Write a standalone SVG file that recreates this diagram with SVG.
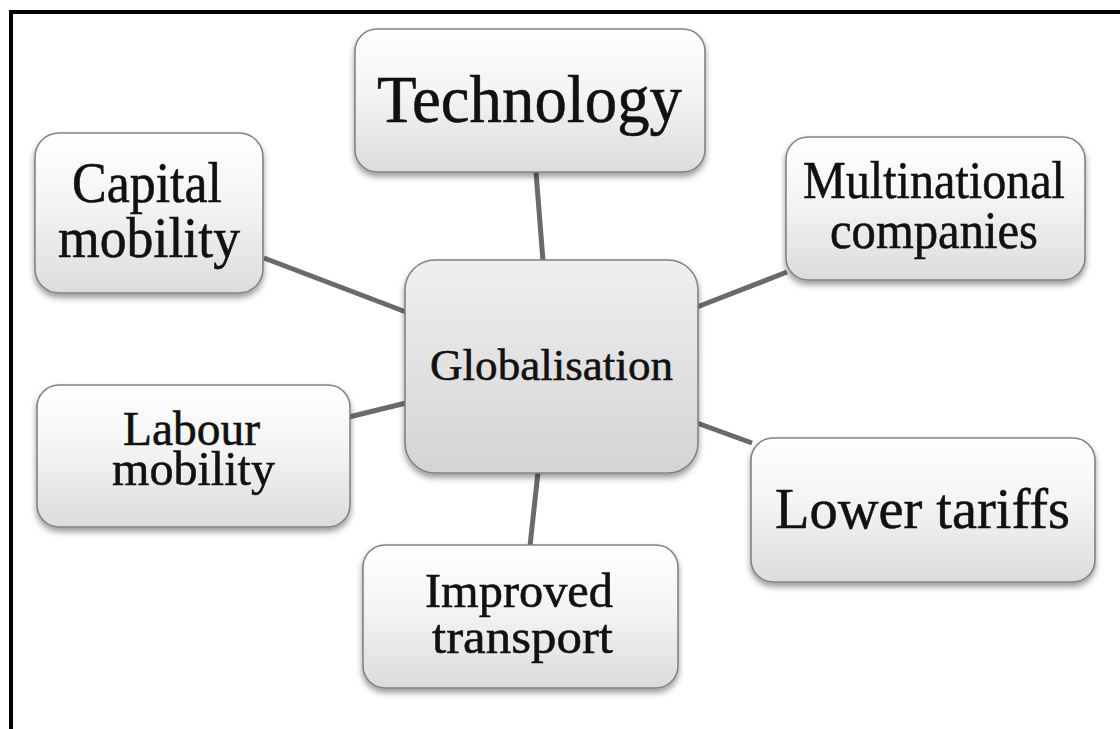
<svg xmlns="http://www.w3.org/2000/svg" width="1120" height="729" viewBox="0 0 1120 729">
  <defs>
    <linearGradient id="boxFill" x1="0" y1="0" x2="0" y2="1">
      <stop offset="0" stop-color="#ffffff"/>
      <stop offset="0.45" stop-color="#f4f4f4"/>
      <stop offset="1" stop-color="#dcdcdc"/>
    </linearGradient>
    <linearGradient id="hubFill" x1="0" y1="0" x2="0" y2="1">
      <stop offset="0" stop-color="#efefef"/>
      <stop offset="1" stop-color="#d4d4d4"/>
    </linearGradient>
    <filter id="shadow" x="-10%" y="-10%" width="120%" height="130%">
      <feGaussianBlur in="SourceAlpha" stdDeviation="3"/>
      <feOffset dx="0" dy="4" result="b"/>
      <feComponentTransfer><feFuncA type="linear" slope="0.4"/></feComponentTransfer>
      <feMerge><feMergeNode/><feMergeNode in="SourceGraphic"/></feMerge>
    </filter>
  </defs>
  <style>
    .box { fill: url(#boxFill); stroke: #828282; stroke-width: 1.6; filter: url(#shadow); }
    .hub { fill: url(#hubFill); stroke: #828282; stroke-width: 1.6; filter: url(#shadow); }
    .lbl { font-family: "Liberation Serif", "Times New Roman", serif; fill: #111; stroke: #111; stroke-width: 0.55; text-anchor: middle; }
    .link { stroke: #6a6a6a; stroke-width: 5; stroke-linecap: butt; fill: none; }
    .frame { fill: none; stroke: #000; stroke-width: 4; }
  </style>

  <rect x="0" y="0" width="1120" height="729" fill="#ffffff"/>
  <!-- outer frame: top and left edges -->
  <path class="frame" d="M11 729 V12 H1120"/>

  <g id="connectors">
    <line class="link" x1="536" y1="172" x2="543" y2="261"/>
    <line class="link" x1="264" y1="258" x2="406" y2="312"/>
    <line class="link" x1="787" y1="272" x2="697" y2="307"/>
    <line class="link" x1="349" y1="417" x2="406" y2="403"/>
    <line class="link" x1="697" y1="423" x2="752" y2="443"/>
    <line class="link" x1="538" y1="472" x2="530" y2="546"/>
  </g>

  <g id="globalisation">
    <rect class="hub" x="405" y="260" width="293" height="213" rx="30"/>
    <text class="lbl" x="551.5" y="380" font-size="44" textLength="243" lengthAdjust="spacingAndGlyphs">Globalisation</text>
  </g>

  <g id="technology">
    <rect class="box" x="355" y="29" width="350" height="143" rx="22"/>
    <text class="lbl" x="529.5" y="122" font-size="68" textLength="305" lengthAdjust="spacingAndGlyphs">Technology</text>
  </g>

  <g id="capital-mobility">
    <rect class="box" x="35" y="133" width="228" height="160" rx="24"/>
    <text class="lbl" x="147" y="202" font-size="56" textLength="150" lengthAdjust="spacingAndGlyphs">Capital</text>
    <text class="lbl" x="149" y="257" font-size="56" textLength="182" lengthAdjust="spacingAndGlyphs">mobility</text>
  </g>

  <g id="multinational-companies">
    <rect class="box" x="786" y="137" width="299" height="143" rx="22"/>
    <text class="lbl" x="934" y="198" font-size="52" textLength="262" lengthAdjust="spacingAndGlyphs">Multinational</text>
    <text class="lbl" x="934" y="248" font-size="52" textLength="208" lengthAdjust="spacingAndGlyphs">companies</text>
  </g>

  <g id="labour-mobility">
    <rect class="box" x="37" y="385" width="313" height="142" rx="22"/>
    <text class="lbl" x="191.5" y="445" font-size="48" textLength="137" lengthAdjust="spacingAndGlyphs">Labour</text>
    <text class="lbl" x="193.5" y="485" font-size="48" textLength="163" lengthAdjust="spacingAndGlyphs">mobility</text>
  </g>

  <g id="lower-tariffs">
    <rect class="box" x="751" y="438" width="344" height="144" rx="22"/>
    <text class="lbl" x="922.5" y="528" font-size="58" textLength="295" lengthAdjust="spacingAndGlyphs">Lower tariffs</text>
  </g>

  <g id="improved-transport">
    <rect class="box" x="363" y="545" width="315" height="143" rx="22"/>
    <text class="lbl" x="519" y="607" font-size="48" textLength="188" lengthAdjust="spacingAndGlyphs">Improved</text>
    <text class="lbl" x="522.5" y="653" font-size="48" textLength="181" lengthAdjust="spacingAndGlyphs">transport</text>
  </g>
</svg>
